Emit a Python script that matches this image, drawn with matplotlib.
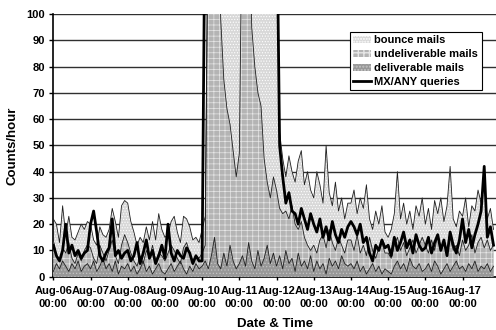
import numpy as np
import matplotlib.pyplot as plt

plt.rcParams['font.family'] = ['Liberation Sans', 'DejaVu Sans']
plt.rcParams['font.weight'] = 'bold'

# two-hourly samples starting Aug-06 00:00 (150 = off the scale)
bounce = [22, 20, 13, 27, 16, 23, 15, 14, 17, 20, 18, 21,
          20, 14, 12, 19, 16, 15, 18, 26, 21, 15, 27, 29,
          28, 21, 17, 12, 15, 13, 19, 14, 21, 14, 24, 18,
          15, 16, 21, 23, 17, 13, 23, 22, 19, 14, 15, 13,
          18, 23, 150, 150, 150, 150, 150, 150, 150, 150, 150, 150,
          150, 150, 150, 150, 150, 150, 150, 150, 150, 150, 150, 150,
          150, 55, 45, 38, 46, 40, 36, 44, 48, 35, 40, 33,
          30, 40, 35, 28, 50, 32, 27, 36, 25, 30, 22, 28,
          28, 33, 24, 30, 26, 35, 22, 18, 25, 20, 27, 17,
          15, 18, 24, 40, 22, 28, 20, 25, 18, 27, 23, 30,
          20, 26, 18, 29, 24, 30, 21, 27, 42, 22, 19, 25,
          23, 30, 19, 27, 25, 33, 28, 36, 22, 26, 18]

undeliverable = [14, 8, 6, 11, 9, 13, 7, 5, 9, 6, 10, 12,
                 11, 7, 5, 12, 9, 6, 10, 14, 8, 5, 12, 16,
                 13, 9, 6, 4, 8, 5, 10, 7, 12, 6, 9, 8,
                 6, 9, 12, 10, 7, 5, 11, 13, 9, 6, 8, 7,
                 9, 12, 150, 150, 150, 150, 98, 75, 64, 58, 48, 38,
                 47, 150, 150, 150, 95, 80, 70, 65, 45, 36, 30, 38,
                 33, 26, 24, 25, 22, 27, 20, 18, 21, 15, 12, 10,
                 12, 9, 14, 16, 11, 18, 13, 10, 15, 12, 9, 14,
                 14, 10, 16, 9, 12, 8, 15, 10, 7, 11, 13, 9,
                 9, 7, 12, 15, 10, 13, 8, 11, 14, 9, 12, 15,
                 12, 9, 14, 10, 16, 11, 13, 9, 15, 10, 12, 8,
                 14, 10, 12, 16, 9, 13, 15, 11, 14, 10, 12]

deliverable = [2, 5, 3, 6, 4, 2, 5, 3, 6, 2, 4, 5,
               3, 6, 2, 4, 7, 3, 5, 2, 6, 1, 4, 3,
               5, 2, 4, 1, 3, 6, 2, 4, 1, 3, 5, 2,
               1, 3, 5, 2, 4, 6, 3, 1, 4, 2, 5, 3,
               4, 6, 3, 8, 15, 5, 3, 9, 4, 12, 6, 3,
               5, 8, 4, 13, 6, 3, 10, 4, 7, 12, 5, 9,
               4, 8, 3, 10, 5, 7, 2, 9, 4, 6, 3, 8,
               2, 6, 3, 5, 1, 7, 4, 6, 3, 8, 5, 4,
               5, 3, 6, 2, 4, 1, 3, 5, 2, 4, 1, 3,
               2, 1, 4, 6, 3, 5, 2, 7, 4, 3, 5, 2,
               3, 5, 2, 6, 4, 1, 3, 5, 2, 4, 6, 3,
               4, 2, 5, 3, 6, 2, 4, 3, 5, 2, 4]

mx_any = [12, 8, 6, 10, 20, 9, 12, 8, 10, 7, 9, 10,
          20, 25, 17, 8, 6, 9, 11, 22, 8, 10, 7, 9,
          10, 6, 8, 13, 5, 9, 14, 7, 10, 5, 8, 12,
          7, 20, 9, 6, 10, 8, 7, 11, 9, 5, 8, 6,
          6, 150, 150, 150, 150, 150, 150, 150, 150, 150, 150, 150,
          150, 150, 150, 150, 150, 150, 150, 150, 150, 150, 150, 150,
          150, 50, 38, 28, 32, 25, 24, 20, 26, 22, 18, 24,
          20, 17, 22, 15, 19, 14, 21, 16, 13, 18, 15, 19,
          21, 19, 16, 20, 13, 15, 9, 6, 12, 10, 14, 11,
          12, 8, 15, 10, 13, 17, 11, 14, 9, 16, 12, 10,
          11, 15, 9, 13, 16, 10, 14, 8, 17, 12, 9, 14,
          22, 13, 18, 11, 16, 20, 25, 42, 15, 19, 12]

day_labels = ['Aug-06', 'Aug-07', 'Aug-08', 'Aug-09', 'Aug-10', 'Aug-11',
              'Aug-12', 'Aug-13', 'Aug-14', 'Aug-15', 'Aug-16', 'Aug-17']

hours = np.arange(len(bounce)) * 2

fig = plt.figure(figsize=(4.96, 3.30), dpi=100)
ax = fig.add_axes([0.1075, 0.1615, 0.8925, 0.7961])

# overlapping area series, first one at the back
with plt.rc_context({'hatch.color': '#ffffff', 'hatch.linewidth': 0.5}):
    ax.fill_between(hours, bounce, facecolor='#d8d8d8', hatch='......', lw=0,
                    label='bounce mails', zorder=2)
with plt.rc_context({'hatch.color': '#e6e6e6', 'hatch.linewidth': 0.5}):
    ax.fill_between(hours, undeliverable, facecolor='#b4b4b4', hatch='+++', lw=0,
                    label='undeliverable mails', zorder=3)
with plt.rc_context({'hatch.color': '#c4c4c4', 'hatch.linewidth': 0.5}):
    ax.fill_between(hours, deliverable, facecolor='#989898', hatch='.....', lw=0,
                    label='deliverable mails', zorder=4)

ax.plot(hours, bounce, color='#202020', lw=0.6, zorder=5)
ax.plot(hours, undeliverable, color='#202020', lw=0.6, zorder=5)
ax.plot(hours, deliverable, color='#202020', lw=0.6, zorder=5)
ax.plot(hours, mx_any, color='black', lw=2.0, label='MX/ANY queries', zorder=6)

ax.set_xlim(0, 285.6)
ax.set_ylim(0, 100)
ax.set_yticks(range(0, 101, 10))
ax.set_xticks(np.arange(len(day_labels)) * 24)
ax.set_xticklabels([d + '\n00:00' for d in day_labels], linespacing=1.35)
ax.tick_params(axis='x', direction='inout', length=5, width=1, pad=4, labelsize=8)
ax.tick_params(axis='y', direction='out', length=3, width=1, pad=3, labelsize=8)

ax.grid(axis='y', color='#303030', lw=1)
ax.set_axisbelow(True)
for s in ['top', 'right']:
    ax.spines[s].set_visible(False)
ax.spines['left'].set_linewidth(1.2)
ax.spines['bottom'].set_linewidth(1.2)

ax.set_ylabel('Counts/hour', fontsize=9.5, fontweight='bold', labelpad=6)
ax.set_xlabel('Date & Time', fontsize=9.5, fontweight='bold', labelpad=7)

leg = ax.legend(loc='upper left', bbox_to_anchor=(350 / 496, 1 - 32 / 330),
                bbox_transform=fig.transFigure, fontsize=8, frameon=True,
                fancybox=False, edgecolor='black', framealpha=1,
                handlelength=1.6, handleheight=0.6, handletextpad=0.3,
                labelspacing=0.35, borderpad=0.3, borderaxespad=0)
leg.get_frame().set_linewidth(0.8)
leg.set_zorder(10)

plt.savefig('out.png', dpi=100)
